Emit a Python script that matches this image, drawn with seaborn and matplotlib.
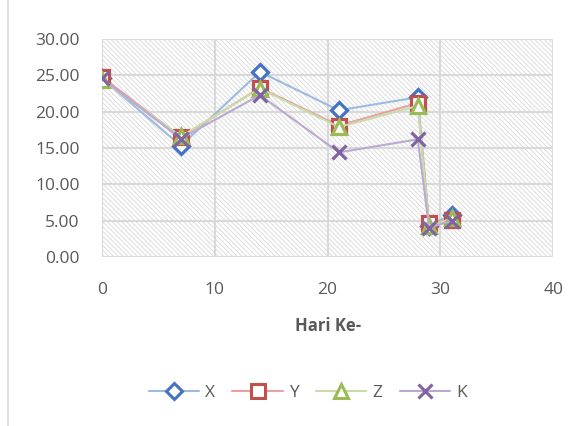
import pandas as pd
import numpy as np
import matplotlib.pyplot as plt
import seaborn as sns
from matplotlib.lines import Line2D
from matplotlib.patches import Rectangle

# Data
hari = [0, 7, 14, 21, 28, 29, 31]
x_vals = [24.6, 15.3, 25.5, 20.2, 22.0, 4.3, 5.8]
y_vals = [24.8, 16.5, 23.3, 18.1, 21.2, 4.6, 5.1]
z_vals = [24.4, 16.6, 23.2, 17.9, 20.8, 4.2, 5.3]
k_vals = [24.6, 16.3, 22.3, 14.4, 16.2, 4.0, 5.0]
series = ['X', 'Y', 'Z', 'K']

df = pd.DataFrame({'Hari': hari * 4,
                   'Nilai': x_vals + y_vals + z_vals + k_vals,
                   'Seri': [s for s in series for _ in hari]})

sns.set_style('white')
plt.rcParams['font.family'] = ['Open Sans', 'DejaVu Sans']
plt.rcParams['hatch.color'] = '#dcdcdc'
plt.rcParams['hatch.linewidth'] = 0.7

marker_col = {'X': '#4472C4', 'Y': '#C0504D', 'Z': '#9BBB59', 'K': '#8064A2'}
line_col = {'X': '#9DBAE0', 'Y': '#E4A3A2', 'Z': '#C9DCA8', 'K': '#BBA9D0'}
markers = {'X': 'D', 'Y': 's', 'Z': '^', 'K': 'x'}
msize = {'X': 8.5, 'Y': 10.5, 'Z': 10.5, 'K': 10.5}

fig = plt.figure(figsize=(5.86, 4.26), dpi=100)
ax = fig.add_axes([0.174, 0.397, 0.770, 0.511])

# hatched plot area
ax.add_patch(Rectangle((0, 0), 1, 1, transform=ax.transAxes, facecolor='white',
                       edgecolor='#dcdcdc', linewidth=0, hatch='\\' * 7, zorder=0.1))

for s in series:
    sub = df[df.Seri == s]
    sns.lineplot(data=sub, x='Hari', y='Nilai', ax=ax, color=line_col[s], linewidth=1.5,
                 marker=markers[s], markersize=msize[s], markerfacecolor='white',
                 markeredgecolor=marker_col[s], markeredgewidth=2.3, zorder=3)

ax.set_xlim(0, 40)
ax.set_ylim(0, 30)
ax.set_xticks([0, 10, 20, 30, 40])
ax.set_yticks([0, 5, 10, 15, 20, 25, 30])
ax.set_yticklabels(['%.2f' % v for v in [0, 5, 10, 15, 20, 25, 30]])
ax.grid(True, color='#d9d9d9', linewidth=1.5)
ax.set_axisbelow(True)
for sp in ax.spines.values():
    sp.set_visible(False)
ax.tick_params(axis='y', length=0, pad=16, labelsize=12.5, labelcolor='#595959')
ax.tick_params(axis='x', length=0, pad=18, labelsize=12.5, labelcolor='#595959')
ax.set_ylabel('')
ax.set_xlabel('Hari Ke-', fontsize=12, fontweight='bold', color='#595959', labelpad=14)

handles = [Line2D([0], [0], color=line_col[s], linewidth=1.5, marker=markers[s],
                  markersize=msize[s] * 0.9, markerfacecolor='white',
                  markeredgecolor=marker_col[s], markeredgewidth=2.2) for s in series]
leg = fig.legend(handles, series, loc='center', bbox_to_anchor=(0.525, 0.078), ncol=4,
                 frameon=False, fontsize=12.5, handlelength=2.9, columnspacing=1.0,
                 handletextpad=0.35)
for t in leg.get_texts():
    t.set_color('#595959')

# chart border
fig.patches.append(Rectangle((0.013, -0.01), 1.0, 1.02, transform=fig.transFigure,
                             fill=False, edgecolor='#d9d9d9', linewidth=1.2))

fig.savefig('out.png', dpi=100)
